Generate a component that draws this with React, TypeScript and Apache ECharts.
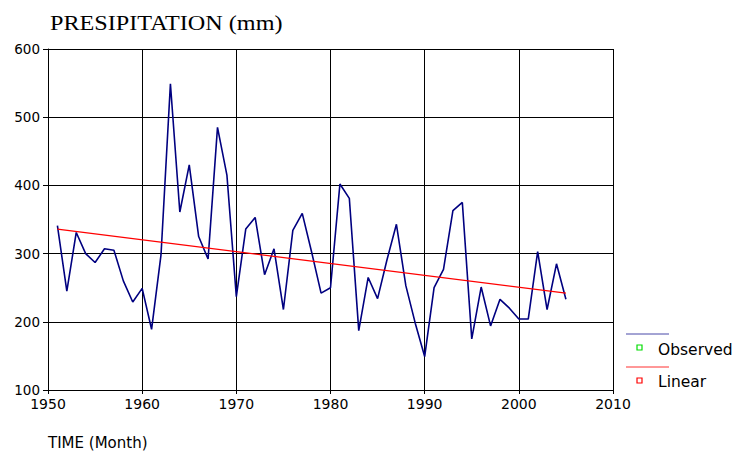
import React, { useEffect, useRef } from "react";
import * as echarts from "echarts";

const years = [
  1951, 1952, 1953, 1954, 1955, 1956, 1957, 1958, 1959, 1960,
  1961, 1962, 1963, 1964, 1965, 1966, 1967, 1968, 1969, 1970,
  1971, 1972, 1973, 1974, 1975, 1976, 1977, 1978, 1979, 1980,
  1981, 1982, 1983, 1984, 1985, 1986, 1987, 1988, 1989, 1990,
  1991, 1992, 1993, 1994, 1995, 1996, 1997, 1998, 1999, 2000,
  2001, 2002, 2003, 2004, 2005,
];
const observed = [
  341, 245, 331, 300, 287, 307, 305, 260, 229, 249,
  189, 298, 549, 361, 430, 325, 292, 485, 415, 237,
  336, 353, 269, 307, 218, 334, 359, 302, 242, 250,
  402, 381, 187, 265, 234, 291, 343, 253, 198, 149,
  250, 277, 363, 375, 175, 251, 194, 233, 220, 204,
  204, 303, 218, 285, 233,
];
const linearYears = [1951, 2005];
const linearValues = [336, 242];

const xTicks = { min: 1950, max: 2010, interval: 10 };
const yTicks = { min: 100, max: 600, interval: 100 };

const titleText = "PRESIPITATION (mm)";
const xTitleText = "TIME (Month)";
const legendNames = ["Observed", "Linear"];

export default function App() {
  const ref = useRef<HTMLDivElement>(null);
  useEffect(() => {
    if (!ref.current) return;
    const chart = echarts.init(ref.current, null, { renderer: "svg" });
    const sans = "DejaVu Sans";
    chart.setOption({
      animation: false,
      backgroundColor: "#ffffff",
      grid: { left: 48, right: 123, top: 49, bottom: 65 },
      xAxis: {
        type: "value",
        min: xTicks.min,
        max: xTicks.max,
        interval: xTicks.interval,
        axisLine: { show: true, onZero: false, lineStyle: { color: "#000", width: 1 } },
        axisTick: { show: true, length: 4, lineStyle: { color: "#000" } },
        axisLabel: {
          color: "#000",
          fontFamily: sans,
          fontSize: 14,
          margin: 7,
          formatter: (v: number) => String(v),
        },
        splitLine: { show: true, lineStyle: { color: "#000", width: 1 } },
      },
      yAxis: {
        type: "value",
        min: yTicks.min,
        max: yTicks.max,
        interval: yTicks.interval,
        axisLine: { show: true, lineStyle: { color: "#000", width: 1 } },
        axisTick: { show: true, length: 5, lineStyle: { color: "#000" } },
        axisLabel: {
          color: "#000",
          fontFamily: sans,
          fontSize: 13.5,
          margin: 8,
          formatter: (v: number) => String(v),
        },
        splitLine: { show: true, lineStyle: { color: "#000", width: 1 } },
      },
      series: [
        {
          name: legendNames[0],
          type: "line",
          data: years.map((y, i) => [y, observed[i]]),
          showSymbol: false,
          lineStyle: { color: "#000080", width: 1.6 },
          z: 3,
        },
        {
          name: legendNames[1],
          type: "line",
          data: linearYears.map((y, i) => [y, linearValues[i]]),
          showSymbol: false,
          lineStyle: { color: "#ff0000", width: 1.2 },
          z: 4,
        },
      ],
      graphic: [
        {
          type: "text",
          x: 50,
          y: 22,
          scaleX: 1.1,
          style: {
            text: titleText,
            fontFamily: "Liberation Serif",
            fontSize: 22,
            fill: "#000",
            verticalAlign: "middle",
          },
        },
        { type: "line", shape: { x1: 626, y1: 334, x2: 669, y2: 334 }, style: { stroke: "#4848a8", lineWidth: 1 } },
        { type: "rect", shape: { x: 637, y: 345, width: 5, height: 5 }, style: { fill: "#fff", stroke: "#00dd00", lineWidth: 1.2 } },
        { type: "text", x: 658, y: 350, style: { text: legendNames[0], fontFamily: sans, fontSize: 15.5, fill: "#000", verticalAlign: "middle" } },
        { type: "line", shape: { x1: 626, y1: 367, x2: 669, y2: 367 }, style: { stroke: "#ff3030", lineWidth: 1 } },
        { type: "rect", shape: { x: 637, y: 378, width: 5, height: 5 }, style: { fill: "#fff", stroke: "#ff0000", lineWidth: 1.2 } },
        { type: "text", x: 658, y: 382, style: { text: legendNames[1], fontFamily: sans, fontSize: 15.5, fill: "#000", verticalAlign: "middle" } },
        { type: "text", x: 48, y: 443, style: { text: xTitleText, fontFamily: sans, fontSize: 15, fill: "#000", verticalAlign: "middle" } },
      ],
    });
    return () => chart.dispose();
  }, []);
  return (
    <div
      ref={ref}
      style={{ position: "absolute", left: 0, top: 0, width: 736, height: 455 }}
    />
  );
}
